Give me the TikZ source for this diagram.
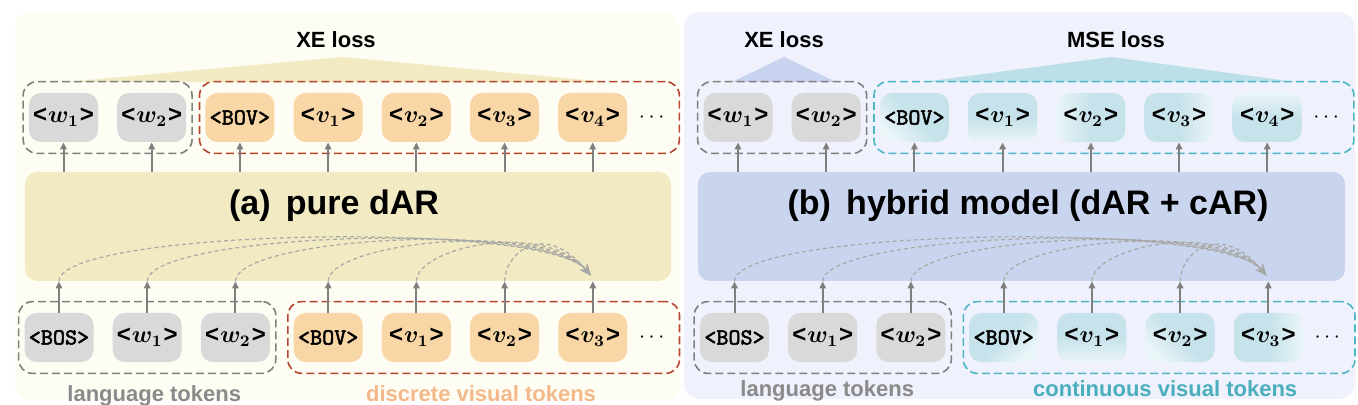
\documentclass[tikz,border=0pt]{standalone}
\usepackage{fontspec}
\setmainfont{Liberation Sans}
\newfontfamily\tokmono{lmmono10-regular.otf}[AutoFakeBold=2.2]
\usepackage{amsmath}
\usepackage{xcolor}
\usepackage{tikz}
\usetikzlibrary{arrows.meta,positioning,fit,calc}
\definecolor{lpanel}{HTML}{FEFDF4}
\definecolor{lmainfill}{HTML}{F2EAC3}
\definecolor{ltri}{HTML}{F2EAC3}
\definecolor{rpanel}{HTML}{EFF2FC}
\definecolor{rmainfill}{HTML}{C9D4EF}
\definecolor{rtri}{HTML}{C8D3EF}
\definecolor{mtri}{HTML}{BDE0E8}
\definecolor{graytok}{HTML}{D9D9D9}
\definecolor{orangetok}{HTML}{F9D6A6}
\definecolor{tealhi}{HTML}{EAF5F8}
\definecolor{tealtok}{HTML}{C6E2EA}
\definecolor{graydash}{HTML}{7F7F7F}
\definecolor{reddash}{HTML}{B5452F}
\definecolor{tealdash}{HTML}{4DB5C4}
\definecolor{arrowgray}{HTML}{7F7F7F}
\definecolor{curvegray}{HTML}{A8A8A4}
\definecolor{langtxt}{HTML}{8A8A8A}
\definecolor{disctxt}{HTML}{F4B98A}
\definecolor{conttxt}{HTML}{4AAEBD}
\newcommand{\wtok}[1]{\textbf{<}\kern0.5pt$\boldsymbol{#1}$\kern0.5pt\textbf{>}}
\newcommand{\stok}[1]{{\fontsize{11.5}{13}\selectfont\tokmono\bfseries <#1>}}

\begin{document}
\begin{tikzpicture}[
  x=0.5pt, y=-0.5pt,
  node distance=9.2pt,
  tok/.style={rectangle, rounded corners=6pt, minimum width=34.5pt, minimum height=24.5pt, inner sep=0pt, font=\fontsize{12}{14}\selectfont},
  gtok/.style={tok, fill=graytok},
  otok/.style={tok, fill=orangetok},
  ctok/.style={tok, top color=tealhi, bottom color=tealtok, middle color=tealtok},
  dotsbox/.style={minimum width=20pt, inner sep=0pt, font=\fontsize{11}{13}\selectfont},
  grp/.style={rectangle, rounded corners=7pt, line width=0.8pt, dash pattern=on 4pt off 2pt, inner xsep=2.75pt, inner ysep=5.5pt},
  mainbox/.style={rectangle, rounded corners=6pt, minimum width=323pt, minimum height=54.5pt},
  headlbl/.style={font=\fontsize{17}{20}\selectfont\bfseries, inner sep=0pt, anchor=base},
  losslbl/.style={font=\fontsize{11}{13}\selectfont\bfseries, inner sep=0pt, anchor=base},
  grplbl/.style={font=\fontsize{11}{13}\selectfont\bfseries, inner sep=0pt},
  uparr/.style={-{Triangle[length=3.5pt, width=3.2pt]}, line width=1pt, draw=arrowgray},
  curvearr/.style={-{Stealth[length=5.5pt, width=4.5pt]}, line width=0.6pt, draw=curvegray, dash pattern=on 2pt off 1.5pt}
]
  \useasboundingbox (0,0) rectangle (1358,405);

  % panels
  \fill[lpanel, rounded corners=8pt] (15,12) rectangle (680,400);
  \fill[rpanel, rounded corners=8pt] (684,12) rectangle (1355,399);

  % loss fans
  \fill[ltri] (343,57) -- (607,82) -- (65,82) -- cycle;
  \fill[rtri] (784,57) -- (836,82) -- (732,82) -- cycle;
  \fill[mtri] (1111,57) -- (1296,82) -- (923,82) -- cycle;

  \node[losslbl] (lxe) at (336,48) {XE loss};
  \node[losslbl] (rxe) at (784,48) {XE loss};
  \node[losslbl] (rmse) at (1116,48) {MSE loss};

  % (a) pure dAR
  \node[mainbox, fill=lmainfill] (lmain) at (348,226.5) {};
  \node[headlbl] (lhead) at (334,215) {(a)\hspace{0.45em}pure dAR};

  \node[gtok] (lt1) at (63.5,117.5) {\wtok{w_1}};
  \node[gtok, right=of lt1] (lt2) {\wtok{w_2}};
  \node[otok, right=of lt2] (lt3) {\stok{BOV}};
  \node[otok, right=of lt3] (lt4) {\wtok{v_1}};
  \node[otok, right=of lt4] (lt5) {\wtok{v_2}};
  \node[otok, right=of lt5] (lt6) {\wtok{v_3}};
  \node[otok, right=of lt6] (lt7) {\wtok{v_4}};
  \node[dotsbox, right=2.75pt of lt7] (lt8) {$\cdots$};
  \node[grp, draw=graydash, fit=(lt1)(lt2)] (ltlang) {};
  \node[grp, draw=reddash, fit=(lt3)(lt8)] (ltvis) {};

  \node[gtok] (lb1) at (59,337.5) {\stok{BOS}};
  \node[gtok, right=of lb1] (lb2) {\wtok{w_1}};
  \node[gtok, right=of lb2] (lb3) {\wtok{w_2}};
  \node[otok, right=11.5pt of lb3] (lb4) {\stok{BOV}};
  \node[otok, right=of lb4] (lb5) {\wtok{v_1}};
  \node[otok, right=of lb5] (lb6) {\wtok{v_2}};
  \node[otok, right=of lb6] (lb7) {\wtok{v_3}};
  \node[dotsbox, right=2.75pt of lb7] (lb8) {$\cdots$};
  \node[grp, draw=graydash, fit=(lb1)(lb3)] (lblang) {};
  \node[grp, draw=reddash, fit=(lb4)(lb8)] (lbvis) {};

  \node[grplbl, text=langtxt, below=5.5pt of lblang, xshift=3.5pt] (llang) {language tokens};
  \node[grplbl, text=disctxt, below=5.5pt of lbvis, xshift=-1.3pt] (ldisc) {discrete visual tokens};

  \draw[uparr] (lt1 |- lmain.north) -- (lt1.south);
  \draw[uparr] (lt2 |- lmain.north) -- (lt2.south);
  \draw[uparr] (lt3 |- lmain.north) -- (lt3.south);
  \draw[uparr] (lt4 |- lmain.north) -- (lt4.south);
  \draw[uparr] (lt5 |- lmain.north) -- (lt5.south);
  \draw[uparr] (lt6 |- lmain.north) -- (lt6.south);
  \draw[uparr] (lt7 |- lmain.north) -- (lt7.south);

  \draw[uparr] (lb1.north) -- (lb1 |- lmain.south);
  \draw[uparr] (lb2.north) -- (lb2 |- lmain.south);
  \draw[uparr] (lb3.north) -- (lb3 |- lmain.south);
  \draw[uparr] (lb4.north) -- (lb4 |- lmain.south);
  \draw[uparr] (lb5.north) -- (lb5 |- lmain.south);
  \draw[uparr] (lb6.north) -- (lb6 |- lmain.south);
  \draw[uparr] (lb7.north) -- (lb7 |- lmain.south);

  % causal links into the next token
  \coordinate (ltgt) at ($(lb7 |- lmain.south)+(-2,-6)$);
  \draw[curvearr] (lb1 |- lmain.south) .. controls ($(lb1 |- lmain.south)+(0,-52)$) and ($(ltgt)+(-47,-56)$) .. (ltgt);
  \draw[curvearr] (lb2 |- lmain.south) .. controls ($(lb2 |- lmain.south)+(0,-48)$) and ($(ltgt)+(-47,-56)$) .. (ltgt);
  \draw[curvearr] (lb3 |- lmain.south) .. controls ($(lb3 |- lmain.south)+(0,-44)$) and ($(ltgt)+(-47,-56)$) .. (ltgt);
  \draw[curvearr] (lb4 |- lmain.south) .. controls ($(lb4 |- lmain.south)+(0,-39)$) and ($(ltgt)+(-47,-56)$) .. (ltgt);
  \draw[curvearr] (lb5 |- lmain.south) .. controls ($(lb5 |- lmain.south)+(0,-34)$) and ($(ltgt)+(-47,-56)$) .. (ltgt);
  \draw[curvearr] (lb6 |- lmain.south) .. controls ($(lb6 |- lmain.south)+(0,-28)$) and ($(ltgt)+(-47,-56)$) .. (ltgt);

  % (b) hybrid model
  \node[mainbox, fill=rmainfill, minimum width=323.5pt] (rmain) at (1021.5,226.5) {};
  \node[headlbl] (rhead) at (1028,215) {(b)\hspace{0.45em}hybrid model (dAR + cAR)};

  \node[gtok] (rt1) at (738,117.5) {\wtok{w_1}};
  \node[gtok, right=of rt1] (rt2) {\wtok{w_2}};
  \node[ctok, shading angle=135, right=of rt2] (rt3) {\stok{BOV}};
  \node[ctok, shading angle=180, right=of rt3] (rt4) {\wtok{v_1}};
  \node[ctok, shading angle=90, right=of rt4] (rt5) {\wtok{v_2}};
  \node[ctok, shading angle=270, right=of rt5] (rt6) {\wtok{v_3}};
  \node[ctok, shading angle=0, right=of rt6] (rt7) {\wtok{v_4}};
  \node[dotsbox, right=2.75pt of rt7] (rt8) {$\cdots$};
  \node[grp, draw=graydash, fit=(rt1)(rt2)] (rtlang) {};
  \node[grp, draw=tealdash, fit=(rt3)(rt8)] (rtvis) {};

  \node[gtok] (rb1) at (734.5,337.5) {\stok{BOS}};
  \node[gtok, right=of rb1] (rb2) {\wtok{w_1}};
  \node[gtok, right=of rb2] (rb3) {\wtok{w_2}};
  \node[ctok, shading angle=225, right=11.5pt of rb3] (rb4) {\stok{BOV}};
  \node[ctok, shading angle=180, right=of rb4] (rb5) {\wtok{v_1}};
  \node[ctok, shading angle=135, right=of rb5] (rb6) {\wtok{v_2}};
  \node[ctok, shading angle=270, right=of rb6] (rb7) {\wtok{v_3}};
  \node[dotsbox, right=2.75pt of rb7] (rb8) {$\cdots$};
  \node[grp, draw=graydash, fit=(rb1)(rb3)] (rblang) {};
  \node[grp, draw=tealdash, fit=(rb4)(rb8)] (rbvis) {};

  \node[grplbl, text=langtxt, below=3pt of rblang, xshift=2.25pt] (rlang) {language tokens};
  \node[grplbl, text=conttxt, below=3pt of rbvis, xshift=3pt] (rcont) {continuous visual tokens};

  \draw[uparr] (rt1 |- rmain.north) -- (rt1.south);
  \draw[uparr] (rt2 |- rmain.north) -- (rt2.south);
  \draw[uparr] (rt3 |- rmain.north) -- (rt3.south);
  \draw[uparr] (rt4 |- rmain.north) -- (rt4.south);
  \draw[uparr] (rt5 |- rmain.north) -- (rt5.south);
  \draw[uparr] (rt6 |- rmain.north) -- (rt6.south);
  \draw[uparr] (rt7 |- rmain.north) -- (rt7.south);

  \draw[uparr] (rb1.north) -- (rb1 |- rmain.south);
  \draw[uparr] (rb2.north) -- (rb2 |- rmain.south);
  \draw[uparr] (rb3.north) -- (rb3 |- rmain.south);
  \draw[uparr] (rb4.north) -- (rb4 |- rmain.south);
  \draw[uparr] (rb5.north) -- (rb5 |- rmain.south);
  \draw[uparr] (rb6.north) -- (rb6 |- rmain.south);
  \draw[uparr] (rb7.north) -- (rb7 |- rmain.south);

  \coordinate (rtgt) at ($(rb7 |- rmain.south)+(-2,-6)$);
  \draw[curvearr] (rb1 |- rmain.south) .. controls ($(rb1 |- rmain.south)+(0,-52)$) and ($(rtgt)+(-47,-56)$) .. (rtgt);
  \draw[curvearr] (rb2 |- rmain.south) .. controls ($(rb2 |- rmain.south)+(0,-48)$) and ($(rtgt)+(-47,-56)$) .. (rtgt);
  \draw[curvearr] (rb3 |- rmain.south) .. controls ($(rb3 |- rmain.south)+(0,-44)$) and ($(rtgt)+(-47,-56)$) .. (rtgt);
  \draw[curvearr] (rb4 |- rmain.south) .. controls ($(rb4 |- rmain.south)+(0,-39)$) and ($(rtgt)+(-47,-56)$) .. (rtgt);
  \draw[curvearr] (rb5 |- rmain.south) .. controls ($(rb5 |- rmain.south)+(0,-34)$) and ($(rtgt)+(-47,-56)$) .. (rtgt);
  \draw[curvearr] (rb6 |- rmain.south) .. controls ($(rb6 |- rmain.south)+(0,-28)$) and ($(rtgt)+(-47,-56)$) .. (rtgt);
\end{tikzpicture}
\end{document}
